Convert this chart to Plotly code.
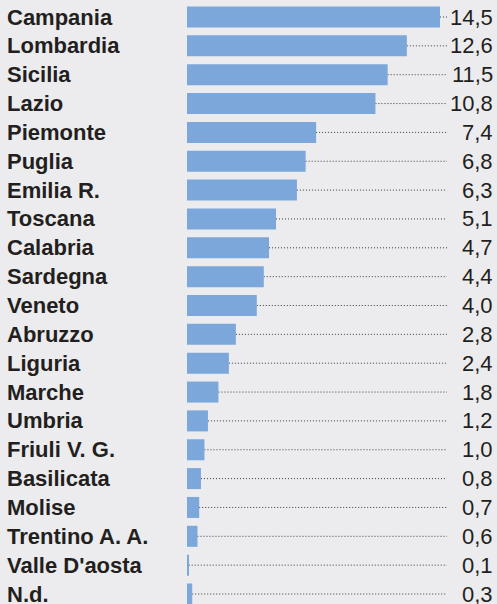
import plotly.graph_objects as go

regions = ["Campania", "Lombardia", "Sicilia", "Lazio", "Piemonte", "Puglia", "Emilia R.",
           "Toscana", "Calabria", "Sardegna", "Veneto", "Abruzzo", "Liguria", "Marche",
           "Umbria", "Friuli V. G.", "Basilicata", "Molise", "Trentino A. A.",
           "Valle D'aosta", "N.d."]
values = [14.5, 12.6, 11.5, 10.8, 7.4, 6.8, 6.3, 5.1, 4.7, 4.4, 4.0, 2.8, 2.4, 1.8,
          1.2, 1.0, 0.8, 0.7, 0.6, 0.1, 0.3]
value_labels = [f"{v:.1f}".replace(".", ",") for v in values]

W, H = 497, 604
BG = "#ececee"
BAR = "#7ba7da"
TXT = "#231f20"

x0_px, x1_px = 187, 447
px_per_unit = (440 - 187) / 14.5
xmax = (x1_px - x0_px) / px_per_unit

row0, step = 17.0, (594 - 17) / 20
ytop = -row0 / step
ybot = (H - row0) / step

idx = list(range(len(regions)))

fig = go.Figure()
fig.add_trace(go.Bar(x=values, y=idx, orientation="h", marker_color=BAR,
                     marker_line_width=0, width=21 / step, hoverinfo="skip"))

for i, v in zip(idx, values):
    fig.add_shape(type="line", xref="x", yref="y", x0=v, x1=xmax, y0=i, y1=i,
                  line=dict(color="#3a3a3a", width=1, dash="1px,2px"), layer="below")

for i, name, lab in zip(idx, regions, value_labels):
    fig.add_annotation(xref="paper", yref="y", x=5 / W, y=i, text=f"<b>{name}</b>",
                       showarrow=False, xanchor="left", yanchor="middle",
                       font=dict(family="Liberation Sans", size=22, color=TXT))
    fig.add_annotation(xref="paper", yref="y", x=495 / W, y=i, text=lab,
                       showarrow=False, xanchor="right", yanchor="middle",
                       font=dict(family="Liberation Sans", size=22, color=TXT))

fig.update_layout(
    width=W, height=H, margin=dict(l=0, r=0, t=0, b=0),
    paper_bgcolor=BG, plot_bgcolor=BG, showlegend=False,
    xaxis=dict(domain=[x0_px / W, x1_px / W], range=[0, xmax], visible=False, fixedrange=True),
    yaxis=dict(domain=[0, 1], range=[ybot, ytop], visible=False, fixedrange=True),
)

fig.write_html("out.html", config={"displayModeBar": False},
               post_script="document.body.style.margin='0';document.body.style.overflow='hidden';")
